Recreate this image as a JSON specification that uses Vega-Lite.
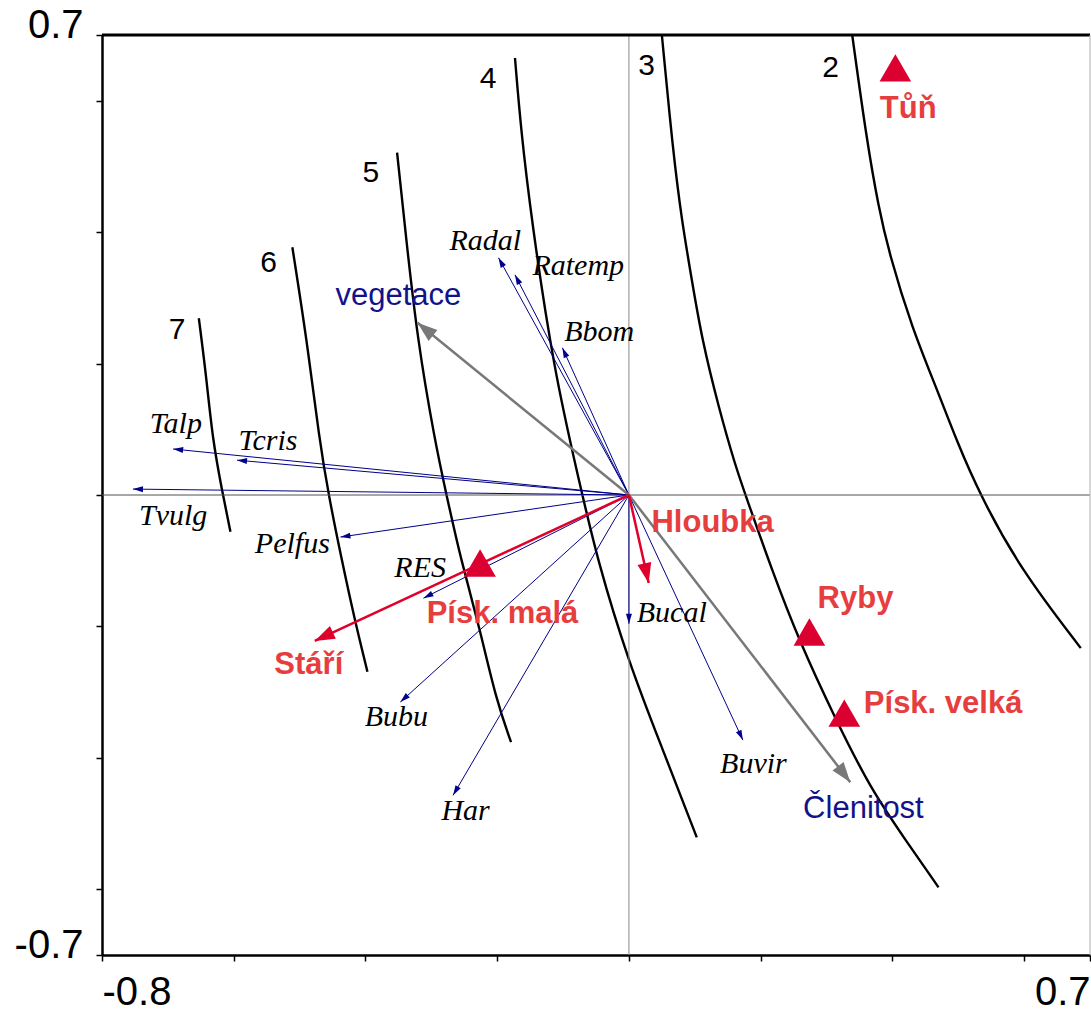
{
  "$schema": "https://vega.github.io/schema/vega-lite/v6.json",
  "width": 988,
  "height": 920,
  "autosize": {"type": "none"},
  "padding": {"left": 102, "top": 35, "right": 1, "bottom": 57},
  "background": "white",
  "config": {"view": {"stroke": null}, "axis": {"grid": false, "title": null}},
  "datasets": {
    "contours": [
      {"c": "7", "x": -0.653, "y": 0.269}, {"c": "7", "x": -0.642, "y": 0.183}, {"c": "7", "x": -0.632, "y": 0.084}, {"c": "7", "x": -0.618, "y": 0.008}, {"c": "7", "x": -0.605, "y": -0.056},
      {"c": "6", "x": -0.511, "y": 0.377}, {"c": "6", "x": -0.489, "y": 0.236}, {"c": "6", "x": -0.470, "y": 0.084}, {"c": "6", "x": -0.456, "y": 0.0}, {"c": "6", "x": -0.436, "y": -0.099}, {"c": "6", "x": -0.417, "y": -0.187}, {"c": "6", "x": -0.397, "y": -0.269},
      {"c": "5", "x": -0.352, "y": 0.521}, {"c": "5", "x": -0.338, "y": 0.388}, {"c": "5", "x": -0.321, "y": 0.236}, {"c": "5", "x": -0.295, "y": 0.084}, {"c": "5", "x": -0.277, "y": 0.0}, {"c": "5", "x": -0.255, "y": -0.099}, {"c": "5", "x": -0.227, "y": -0.201}, {"c": "5", "x": -0.2015, "y": -0.312}, {"c": "5", "x": -0.179, "y": -0.376},
      {"c": "4", "x": -0.173, "y": 0.665}, {"c": "4", "x": -0.164, "y": 0.556}, {"c": "4", "x": -0.148, "y": 0.419}, {"c": "4", "x": -0.114, "y": 0.190}, {"c": "4", "x": -0.076, "y": 0.023}, {"c": "4", "x": -0.048, "y": -0.099}, {"c": "4", "x": 0.0, "y": -0.256}, {"c": "4", "x": 0.05, "y": -0.384}, {"c": "4", "x": 0.103, "y": -0.521},
      {"c": "3", "x": 0.05, "y": 0.7}, {"c": "3", "x": 0.0667, "y": 0.525}, {"c": "3", "x": 0.08, "y": 0.419}, {"c": "3", "x": 0.0955, "y": 0.327}, {"c": "3", "x": 0.111, "y": 0.236}, {"c": "3", "x": 0.136, "y": 0.134}, {"c": "3", "x": 0.162, "y": 0.043}, {"c": "3", "x": 0.177, "y": 0.0}, {"c": "3", "x": 0.217, "y": -0.114}, {"c": "3", "x": 0.258, "y": -0.221}, {"c": "3", "x": 0.314, "y": -0.342}, {"c": "3", "x": 0.368, "y": -0.449}, {"c": "3", "x": 0.42, "y": -0.525}, {"c": "3", "x": 0.47, "y": -0.597},
      {"c": "2", "x": 0.339, "y": 0.7}, {"c": "2", "x": 0.361, "y": 0.54}, {"c": "2", "x": 0.379, "y": 0.438}, {"c": "2", "x": 0.395, "y": 0.368}, {"c": "2", "x": 0.429, "y": 0.256}, {"c": "2", "x": 0.47, "y": 0.155}, {"c": "2", "x": 0.497, "y": 0.084}, {"c": "2", "x": 0.533, "y": 0.0}, {"c": "2", "x": 0.595, "y": -0.114}, {"c": "2", "x": 0.686, "y": -0.233}
    ],
    "contourLabels": [
      {"label": "7", "x": -0.686, "y": 0.251},
      {"label": "6", "x": -0.547, "y": 0.353},
      {"label": "5", "x": -0.392, "y": 0.49},
      {"label": "4", "x": -0.214, "y": 0.633},
      {"label": "3", "x": 0.027, "y": 0.653},
      {"label": "2", "x": 0.306, "y": 0.65}
    ],
    "species": [
      {"name": "Radal", "x": -0.198, "y": 0.361, "lx": -0.218, "ly": 0.387},
      {"name": "Ratemp", "x": -0.173, "y": 0.335, "lx": -0.077, "ly": 0.349},
      {"name": "Bbom", "x": -0.101, "y": 0.224, "lx": -0.045, "ly": 0.248},
      {"name": "Talp", "x": -0.692, "y": 0.07, "lx": -0.688, "ly": 0.108},
      {"name": "Tcris", "x": -0.595, "y": 0.053, "lx": -0.548, "ly": 0.082},
      {"name": "Tvulg", "x": -0.753, "y": 0.009, "lx": -0.692, "ly": -0.032},
      {"name": "Pelfus", "x": -0.438, "y": -0.064, "lx": -0.511, "ly": -0.075},
      {"name": "RES", "x": -0.312, "y": -0.157, "lx": -0.317, "ly": -0.111},
      {"name": "Bucal", "x": 0.0, "y": -0.196, "lx": 0.065, "ly": -0.18},
      {"name": "Bubu", "x": -0.347, "y": -0.315, "lx": -0.353, "ly": -0.338},
      {"name": "Har", "x": -0.267, "y": -0.457, "lx": -0.248, "ly": -0.481},
      {"name": "Buvir", "x": 0.173, "y": -0.373, "lx": 0.189, "ly": -0.409}
    ],
    "env": [
      {"name": "vegetace", "group": "gray", "x": -0.321, "y": 0.262, "lx": -0.35, "ly": 0.303},
      {"name": "Členitost", "group": "gray", "x": 0.336, "y": -0.437, "lx": 0.356, "ly": -0.478},
      {"name": "Hloubka", "group": "red", "x": 0.03, "y": -0.134, "lx": 0.127, "ly": -0.043},
      {"name": "Stáří", "group": "red", "x": -0.477, "y": -0.222, "lx": -0.486, "ly": -0.259}
    ],
    "samples": [
      {"name": "Tůň", "x": 0.4045, "y": 0.65, "lx": 0.424, "ly": 0.588},
      {"name": "Ryby", "x": 0.274, "y": -0.2085, "lx": 0.344, "ly": -0.158},
      {"name": "Písk. velká", "x": 0.327, "y": -0.332, "lx": 0.477, "ly": -0.318},
      {"name": "Písk. malá", "x": -0.226, "y": -0.1035, "lx": -0.192, "ly": -0.181}
    ]
  },
  "layer": [
    {
      "data": {"name": "contours"},
      "mark": {"type": "line", "color": "black", "strokeWidth": 2.4, "interpolate": "basis"},
      "encoding": {
        "x": {"field": "x", "type": "quantitative", "scale": {"domain": [-0.8, 0.7], "nice": false, "zero": false},
          "axis": {"title": null, "grid": false, "values": [-0.8, -0.6, -0.4, -0.2, 0, 0.2, 0.4, 0.6, 0.7],
            "labelExpr": "datum.value == -0.8 ? '-0.8' : (datum.value == 0.7 ? '0.7' : '')",
            "labelFlush": true, "labelFont": "Liberation Sans", "labelFontSize": 40, "labelColor": "black",
            "labelPadding": 11, "tickSize": 6, "tickWidth": 1.5, "tickColor": "black",
            "domainColor": "black", "domainWidth": 2.5, "labelOverlap": false}},
        "y": {"field": "y", "type": "quantitative", "scale": {"domain": [-0.7, 0.7], "nice": false, "zero": false},
          "axis": {"title": null, "grid": false, "values": [-0.7, -0.6, -0.4, -0.2, 0, 0.2, 0.4, 0.6, 0.7],
            "labelExpr": "datum.value == 0.7 ? '0.7' : (datum.value == -0.7 ? '-0.7' : '')",
            "labelFlush": false, "labelBaseline": "alphabetic", "labelOffset": 2, "labelFont": "Liberation Sans", "labelFontSize": 40, "labelColor": "black",
            "labelPadding": 13, "tickSize": 6, "tickWidth": 1.5, "tickColor": "black",
            "domainColor": "black", "domainWidth": 2.5, "labelOverlap": false}},
        "detail": {"field": "c", "type": "nominal"},
        "order": {"field": "y", "sort": "descending"}
      }
    },
    {
      "data": {"values": [{}]},
      "mark": {"type": "rule", "color": "#8a8a8a", "strokeWidth": 1},
      "encoding": {"x": {"datum": 0, "type": "quantitative"}}
    },
    {
      "data": {"values": [{}]},
      "mark": {"type": "rule", "color": "#505050", "strokeWidth": 1},
      "encoding": {"y": {"datum": 0, "type": "quantitative"}}
    },
    {
      "data": {"values": [{}]},
      "mark": {"type": "rule", "color": "black", "strokeWidth": 3},
      "encoding": {"y": {"datum": 0.7, "type": "quantitative"}}
    },
    {
      "data": {"values": [{}]},
      "mark": {"type": "rule", "color": "#b0b0b0", "strokeWidth": 1},
      "encoding": {"x": {"datum": 0.7, "type": "quantitative"}}
    },
    {
      "data": {"name": "species"},
      "mark": {"type": "rule", "color": "#000088", "strokeWidth": 1},
      "encoding": {
        "x": {"field": "x", "type": "quantitative"},
        "y": {"field": "y", "type": "quantitative"},
        "x2": {"datum": 0},
        "y2": {"datum": 0}
      }
    },
    {
      "data": {"name": "species"},
      "transform": [{"calculate": "atan2(datum.x, datum.y) * 180 / PI", "as": "ang"}],
      "mark": {"type": "point", "shape": "M0,0L-0.3,1L0.3,1Z", "filled": true, "opacity": 1, "color": "#000088", "size": 400},
      "encoding": {
        "x": {"field": "x", "type": "quantitative"},
        "y": {"field": "y", "type": "quantitative"},
        "angle": {"field": "ang", "type": "quantitative", "scale": null}
      }
    },
    {
      "data": {"name": "env"},
      "mark": {"type": "rule", "strokeWidth": 2.5},
      "encoding": {
        "x": {"field": "x", "type": "quantitative"},
        "y": {"field": "y", "type": "quantitative"},
        "x2": {"datum": 0},
        "y2": {"datum": 0},
        "color": {"field": "group", "type": "nominal", "scale": {"domain": ["gray", "red"], "range": ["#787878", "#e0002b"]}, "legend": null}
      }
    },
    {
      "data": {"name": "env"},
      "transform": [{"calculate": "atan2(datum.x, datum.y) * 180 / PI", "as": "ang"}],
      "mark": {"type": "point", "shape": "M0,0L-0.35,1L0.35,1Z", "filled": true, "opacity": 1, "size": 1600},
      "encoding": {
        "x": {"field": "x", "type": "quantitative"},
        "y": {"field": "y", "type": "quantitative"},
        "angle": {"field": "ang", "type": "quantitative", "scale": null},
        "color": {"field": "group", "type": "nominal", "scale": {"domain": ["gray", "red"], "range": ["#787878", "#e0002b"]}, "legend": null}
      }
    },
    {
      "data": {"name": "samples"},
      "mark": {"type": "point", "shape": "triangle-up", "filled": true, "opacity": 1, "color": "#dc0030", "size": 1000},
      "encoding": {
        "x": {"field": "x", "type": "quantitative"},
        "y": {"field": "y", "type": "quantitative"}
      }
    },
    {
      "data": {"name": "contourLabels"},
      "mark": {"type": "text", "font": "Liberation Sans", "fontSize": 30, "color": "black", "align": "center", "baseline": "middle"},
      "encoding": {
        "x": {"field": "x", "type": "quantitative"},
        "y": {"field": "y", "type": "quantitative"},
        "text": {"field": "label"}
      }
    },
    {
      "data": {"name": "species"},
      "mark": {"type": "text", "font": "Liberation Serif", "fontStyle": "italic", "fontSize": 30, "color": "black", "align": "center", "baseline": "middle"},
      "encoding": {
        "x": {"field": "lx", "type": "quantitative"},
        "y": {"field": "ly", "type": "quantitative"},
        "text": {"field": "name"}
      }
    },
    {
      "data": {"name": "env"},
      "transform": [{"filter": "datum.group == 'gray'"}],
      "mark": {"type": "text", "font": "Liberation Sans", "fontSize": 31, "color": "#12128a", "align": "center", "baseline": "middle"},
      "encoding": {
        "x": {"field": "lx", "type": "quantitative"},
        "y": {"field": "ly", "type": "quantitative"},
        "text": {"field": "name"}
      }
    },
    {
      "data": {"name": "env"},
      "transform": [{"filter": "datum.group == 'red'"}],
      "mark": {"type": "text", "font": "Liberation Sans", "fontSize": 31, "fontWeight": "bold", "color": "#e63e3e", "align": "center", "baseline": "middle"},
      "encoding": {
        "x": {"field": "lx", "type": "quantitative"},
        "y": {"field": "ly", "type": "quantitative"},
        "text": {"field": "name"}
      }
    },
    {
      "data": {"name": "samples"},
      "mark": {"type": "text", "font": "Liberation Sans", "fontSize": 31, "fontWeight": "bold", "color": "#e63e3e", "align": "center", "baseline": "middle"},
      "encoding": {
        "x": {"field": "lx", "type": "quantitative"},
        "y": {"field": "ly", "type": "quantitative"},
        "text": {"field": "name"}
      }
    }
  ]
}
